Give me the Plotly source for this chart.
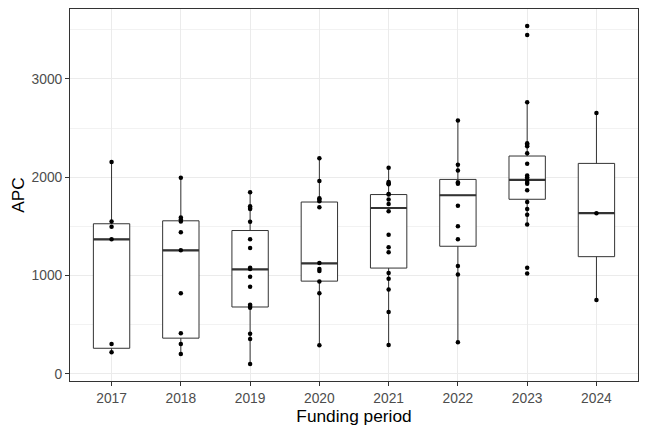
import plotly.graph_objects as go

years = ["2017", "2018", "2019", "2020", "2021", "2022", "2023", "2024"]

# APC values per funding period
apc_2017 = [2154, 1549, 1495, 1368, 303, 218]
apc_2018 = [1993, 1590, 1570, 1549, 1440, 1256, 819, 413, 303, 201]
apc_2019 = [1846, 1703, 1686, 1676, 1546, 1368, 1280, 1078, 1065, 986, 884,
            703, 689, 672, 406, 354, 98]
apc_2020 = [2192, 1962, 1785, 1772, 1754, 1693, 1126, 1065, 1044, 938, 819, 290]
apc_2021 = [2095, 1952, 1939, 1928, 1829, 1823, 1772, 1727, 1652, 1413, 1286,
            1235, 1024, 966, 856, 628, 293]
apc_2022 = [2577, 2126, 2068, 1949, 1932, 1710, 1501, 1368, 1096, 1010, 321]
apc_2023 = [3539, 3447, 2761, 2346, 2331, 2314, 2243, 2136, 2017, 2000, 1976,
            1952, 1932, 1867, 1747, 1675, 1618, 1519, 1078, 1020]
apc_2024 = [2652, 1634, 751]

points = [apc_2017, apc_2018, apc_2019, apc_2020,
          apc_2021, apc_2022, apc_2023, apc_2024]

# box statistics as drawn in the reference
q1 = [259, 362, 679, 942, 1075, 1297, 1775, 1191]
median = [1368, 1256, 1061, 1122, 1686, 1816, 1972, 1634]
q3 = [1526, 1556, 1457, 1747, 1823, 1977, 2215, 2140]
whisker_low = [218, 201, 98, 290, 293, 321, 1519, 751]
whisker_high = [2154, 1993, 1846, 2192, 2095, 2577, 2761, 2652]

fig = go.Figure()

fig.add_trace(go.Box(
    x=years, q1=q1, median=median, q3=q3,
    lowerfence=whisker_low, upperfence=whisker_high,
    boxpoints=False, whiskerwidth=0,
    fillcolor="white", line=dict(color="#333333", width=1),
    showlegend=False, hoverinfo="skip",
))

# thicker median line, like ggplot
fig.add_trace(go.Box(
    x=years, q1=median, median=median, q3=median,
    lowerfence=median, upperfence=median,
    boxpoints=False, whiskerwidth=0,
    fillcolor="rgba(0,0,0,0)", line=dict(color="#333333", width=2.2),
    showlegend=False, hoverinfo="skip",
))

px_ = []
py_ = []
for yr, vals in zip(years, points):
    px_ += [yr] * len(vals)
    py_ += vals

fig.add_trace(go.Scatter(
    x=px_, y=py_, mode="markers",
    marker=dict(color="black", size=4.5),
    showlegend=False,
))

# page body adds an 8px margin, so the figure is 8px smaller
fig.update_layout(
    width=640, height=424,
    margin=dict(l=62, r=10, t=1, b=51),
    plot_bgcolor="white", paper_bgcolor="white",
    boxmode="overlay", boxgap=0.25,
    font=dict(family="Liberation Sans, Arial, sans-serif"),
)

fig.update_xaxes(
    type="category", categoryorder="array", categoryarray=years,
    range=[-0.6, 7.6],
    title=dict(text="Funding period", font=dict(size=17.3, color="black"), standoff=3),
    tickfont=dict(size=13.8, color="#4D4D4D"),
    showgrid=True, gridcolor="#EBEBEB", gridwidth=1.1,
    showline=True, linecolor="#333333", linewidth=1, mirror=True,
    ticks="outside", ticklen=4, tickcolor="#333333", tickwidth=1,
    zeroline=False,
)

fig.update_yaxes(
    range=[-74, 3711], tickvals=[0, 1000, 2000, 3000],
    title=dict(text="APC", font=dict(size=17.3, color="black"), standoff=5),
    tickfont=dict(size=13.8, color="#4D4D4D"),
    showgrid=True, gridcolor="#EBEBEB", gridwidth=1.1,
    minor=dict(tickvals=[500, 1500, 2500, 3500], showgrid=True,
               gridcolor="#F2F2F2", gridwidth=0.6, ticks=""),
    showline=True, linecolor="#333333", linewidth=1, mirror=True,
    ticks="outside", ticklen=4, tickcolor="#333333", tickwidth=1,
    zeroline=False,
)

fig.write_html("out.html")
